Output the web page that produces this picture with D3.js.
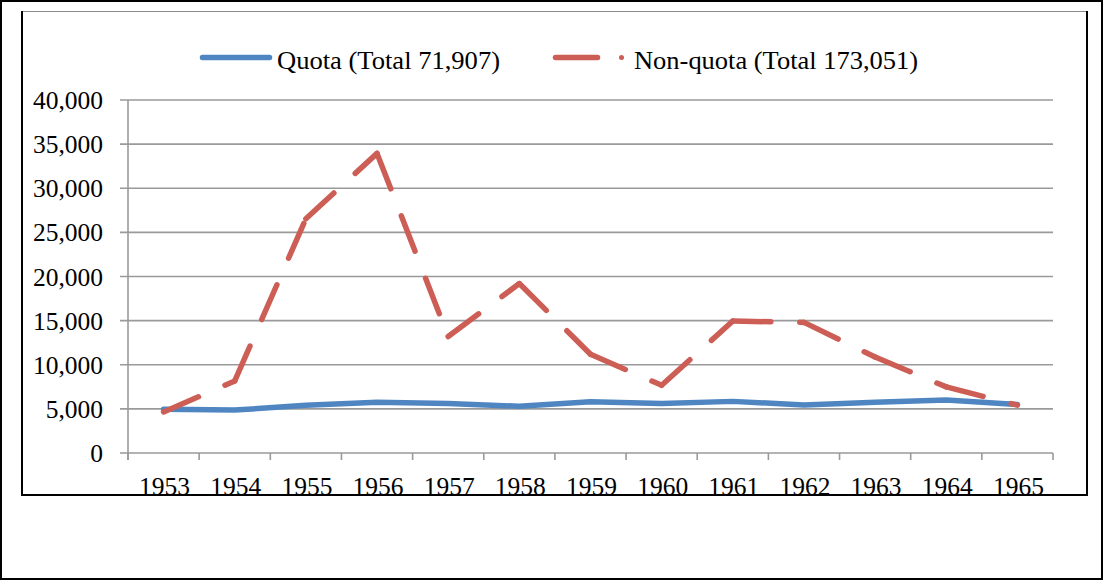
<!DOCTYPE html>
<html>
<head>
<meta charset="utf-8">
<script src="https://cdn.jsdelivr.net/npm/d3@7"></script>
<style>
  html, body { margin: 0; padding: 0; background: #fff; }
  svg { display: block; }
  text { font-family: "Liberation Serif", "Times New Roman", serif; fill: #000; }
</style>
</head>
<body>
<svg id="chart" width="1103" height="581"></svg>
<script>
// ---- Data ----
const years = ["1953","1954","1955","1956","1957","1958","1959","1960","1961","1962","1963","1964","1965"];
const quota = [4950, 4860, 5400, 5750, 5600, 5300, 5800, 5600, 5850, 5450, 5750, 6000, 5500];
const nonQuota = [4650, 8170, 26550, 33950, 13200, 19200, 11190, 7680, 14950, 14800, 10870, 7490, 5420];
const yTicks = [0, 5000, 10000, 15000, 20000, 25000, 30000, 35000, 40000];
const seriesNames = ["Quota (Total 71,907)", "Non-quota (Total 173,051)"];

const blue = "#4f86c2";
const red = "#cc5e56";
const grid = "#9a9a9a";

const svg = d3.select("#chart");

// Scales
const x = d3.scaleBand().domain(years).range([128, 1053]).padding(0);
const y = d3.scaleLinear().domain([0, 40000]).range([453, 100]);
const cx = d => x(d) + x.bandwidth() / 2;

// Outer frame
svg.append("rect").attr("x", 1).attr("y", 1).attr("width", 1101).attr("height", 578)
  .attr("fill", "none").attr("stroke", "#000").attr("stroke-width", 2);

// Gridlines + y ticks
svg.append("g").selectAll("line").data(yTicks).join("line")
  .attr("x1", 120).attr("x2", 1053)
  .attr("y1", d => y(d)).attr("y2", d => y(d))
  .attr("stroke", grid).attr("stroke-width", 1.6);

// y axis line
svg.append("line").attr("x1", 128).attr("x2", 128).attr("y1", y(40000)).attr("y2", y(0) + 7)
  .attr("stroke", grid).attr("stroke-width", 1.6);

// x ticks at band boundaries
const xBounds = years.map(d => x(d)).concat([x.range()[1]]);
svg.append("g").selectAll("line").data(xBounds).join("line")
  .attr("x1", d => d).attr("x2", d => d)
  .attr("y1", y(0)).attr("y2", y(0) + 7)
  .attr("stroke", grid).attr("stroke-width", 1.6);

// y labels
const fmt = d3.format(",");
svg.append("g").selectAll("text").data(yTicks).join("text")
  .attr("x", 103).attr("y", d => y(d) + 9)
  .attr("text-anchor", "end").attr("font-size", 25.5)
  .text(d => fmt(d));

// x labels
svg.append("g").selectAll("text").data(years).join("text")
  .attr("x", d => cx(d) + 1).attr("y", 495)
  .attr("text-anchor", "middle").attr("font-size", 25.5)
  .text(d => d);

// Quota line (solid)
const line = d3.line().x(d => cx(d.year)).y(d => y(d.v));
svg.append("path")
  .datum(years.map((yr, i) => ({year: yr, v: quota[i]})))
  .attr("d", line)
  .attr("fill", "none").attr("stroke", blue).attr("stroke-width", 5.5)
  .attr("stroke-linejoin", "round").attr("stroke-linecap", "round");

// Non-quota line (dashed, pattern restarting at each point)
const nqPts = years.map((yr, i) => ({year: yr, v: nonQuota[i]}));
const segs = d3.pairs(nqPts);
svg.append("g").selectAll("path").data(segs).join("path")
  .attr("d", d => line(d))
  .attr("fill", "none").attr("stroke", red).attr("stroke-width", 5.5)
  .attr("stroke-linecap", "round").attr("stroke-linejoin", "round")
  .attr("stroke-dasharray", "38 29");

// Legend
const lg = svg.append("g");
lg.append("line").attr("x1", 202.5).attr("x2", 269.5).attr("y1", 57.5).attr("y2", 57.5)
  .attr("stroke", blue).attr("stroke-width", 5.5).attr("stroke-linecap", "round");
lg.append("text").attr("x", 277).attr("y", 69).attr("font-size", 25.5)
  .attr("textLength", 223).attr("lengthAdjust", "spacingAndGlyphs").text(seriesNames[0]);

lg.append("line").attr("x1", 555.5).attr("x2", 597.5).attr("y1", 57.5).attr("y2", 57.5)
  .attr("stroke", red).attr("stroke-width", 5.5).attr("stroke-linecap", "round");
lg.append("circle").attr("cx", 621.5).attr("cy", 57.5).attr("r", 2.5).attr("fill", red);
lg.append("text").attr("x", 634).attr("y", 69).attr("font-size", 25.5)
  .attr("textLength", 284).attr("lengthAdjust", "spacingAndGlyphs").text(seriesNames[1]);

// Inner chart box (drawn last so the bottom edge overlays x labels)
svg.append("line").attr("x1", 22).attr("x2", 1087).attr("y1", 11.5).attr("y2", 11.5)
  .attr("stroke", "#8a8a8a").attr("stroke-width", 1);
svg.append("line").attr("x1", 22).attr("x2", 22).attr("y1", 11).attr("y2", 496)
  .attr("stroke", "#000").attr("stroke-width", 2);
svg.append("line").attr("x1", 1087).attr("x2", 1087).attr("y1", 11).attr("y2", 496)
  .attr("stroke", "#000").attr("stroke-width", 2);
svg.append("line").attr("x1", 21).attr("x2", 1088).attr("y1", 495).attr("y2", 495)
  .attr("stroke", "#000").attr("stroke-width", 2);
</script>
</body>
</html>
